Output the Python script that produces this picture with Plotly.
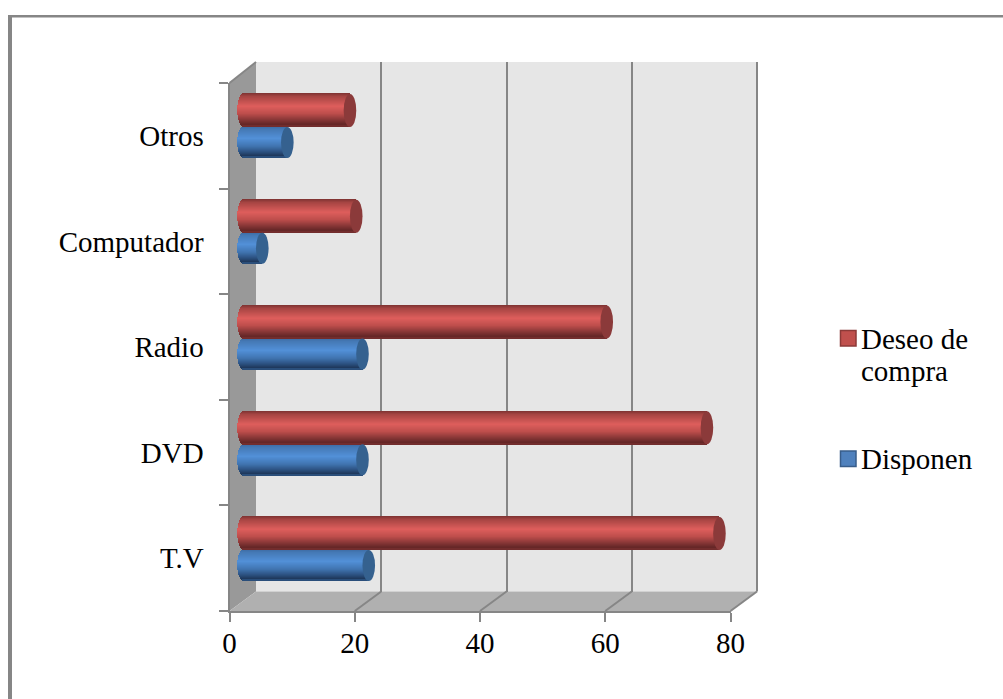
import plotly.graph_objects as go

# Survey data: appliances owned vs. wanted
categories = ["T.V", "DVD", "Radio", "Computador", "Otros"]
disponen = [20, 19, 19, 3, 7]
deseo_compra = [76, 74, 58, 18, 17]
x_ticks = [0, 20, 40, 60, 80]

W, H = 1003, 699
FONT = "Liberation Serif"
LINE = "#868686"

# Pixel frame of the pseudo-3D box
FRONT_L, FRONT_R, FRONT_T, FRONT_B = 229.5, 730.5, 83.0, 611.0
DEPTH_X, DEPTH_Y = 26.5, -19.5
BAR_L = 243.5                # axis origin of the cylinders, mid depth
PX_PER_UNIT = (FRONT_R - FRONT_L) / 80
ROW_PX = 105.75              # distance between category rows
ROW0_PX = 550.0              # seam between the two cylinders of the first row
CAP_RX_PX = 6.3
BAR_PAD = 2                  # axis room left of zero for the rounded cylinder ends


def fx(px):
    return px / W


def fy(py):
    return 1 - py / H


def lerp_stops(stops, t):
    for (t0, c0), (t1, c1) in zip(stops, stops[1:]):
        if t <= t1:
            k = (t - t0) / (t1 - t0) if t1 > t0 else 0
            rgb = [round(a + (b - a) * k) for a, b in zip(c0, c1)]
            return f"rgb({rgb[0]},{rgb[1]},{rgb[2]})"
    c = stops[-1][1]
    return f"rgb({c[0]},{c[1]},{c[2]})"


# Vertical shading of each cylinder, top (0) to bottom (1)
RED_SHADE = [(0.0, (125, 50, 50)), (0.10, (165, 68, 66)), (0.40, (222, 94, 92)),
             (0.62, (190, 78, 76)), (0.85, (125, 50, 50)), (0.95, (100, 38, 38)), (1.0, (120, 48, 48))]
BLUE_SHADE = [(0.0, (60, 105, 160)), (0.10, (68, 120, 180)), (0.40, (82, 144, 216)),
              (0.65, (64, 116, 176)), (0.85, (42, 78, 124)), (0.95, (30, 56, 92)), (1.0, (48, 88, 136))]


def cylinder(values, name, shade, top_px, bottom_px):
    """One horizontal bar trace made of 1px shaded strips with rounded ends."""
    n = int(round(bottom_px - top_px))
    unit_h = 1 / ROW_PX
    rx = CAP_RX_PX / PX_PER_UNIT
    ys, xs, bases, colors = [], [], [], []
    for row, v in enumerate(values):
        for i in range(n):
            t = (i + 0.5) / n
            bulge = rx * (1 - (2 * t - 1) ** 2) ** 0.5
            ys.append(row + (ROW0_PX - (top_px + i + 0.5)) * unit_h)
            bases.append(-bulge)
            xs.append(v + bulge)
            colors.append(lerp_stops(shade, t))
    return go.Bar(
        y=ys, x=xs, base=bases, orientation="h", width=unit_h, name=name,
        marker=dict(color=colors, line=dict(width=0)), cliponaxis=False,
        xaxis="x2", yaxis="y2", showlegend=False, hoverinfo="skip",
    )


def cap_shapes(values, top_px, bottom_px, fill):
    rx = CAP_RX_PX / PX_PER_UNIT
    out = []
    for row, v in enumerate(values):
        out.append(dict(
            type="circle", xref="x2", yref="y2", layer="above",
            x0=v - rx, x1=v + rx,
            y0=row + (ROW0_PX - bottom_px) / ROW_PX,
            y1=row + (ROW0_PX - top_px) / ROW_PX,
            fillcolor=fill, line=dict(width=0),
        ))
    return out


def poly(points, fill):
    path = "M " + " L ".join(f"{fx(x):.5f},{fy(y):.5f}" for x, y in points) + " Z"
    return dict(type="path", xref="paper", yref="paper", layer="below",
                path=path, fillcolor=fill, line=dict(width=0))


def seg(x0, y0, x1, y1, layer="below", width=2):
    return dict(type="line", xref="paper", yref="paper", layer=layer,
                x0=fx(x0), y0=fy(y0), x1=fx(x1), y1=fy(y1),
                line=dict(color=LINE, width=width))


def swatch(top_px, fill, edge):
    return dict(type="rect", xref="paper", yref="paper", layer="above",
                x0=fx(840.5), x1=fx(856), y0=fy(top_px + 15.5), y1=fy(top_px),
                fillcolor=fill, line=dict(color=edge, width=1.5))


BACK_L, BACK_R = FRONT_L + DEPTH_X, FRONT_R + DEPTH_X
BACK_T, BACK_B = FRONT_T + DEPTH_Y - 1.5, FRONT_B + DEPTH_Y

shapes = [
    # page frame along the top and left edges
    dict(type="rect", xref="paper", yref="paper", layer="below",
         x0=fx(8), x1=1, y0=fy(17.5), y1=fy(15), fillcolor=LINE, line=dict(width=0)),
    dict(type="rect", xref="paper", yref="paper", layer="below",
         x0=fx(8), x1=fx(12), y0=0, y1=fy(15), fillcolor=LINE, line=dict(width=0)),
    # box walls
    poly([(BACK_L, BACK_T), (BACK_R, BACK_T), (BACK_R, BACK_B), (BACK_L, BACK_B)], "#e6e6e6"),
    poly([(FRONT_L, FRONT_T), (BACK_L, BACK_T), (BACK_L, BACK_B), (FRONT_L, FRONT_B)], "#999999"),
    poly([(FRONT_L, FRONT_B), (BACK_L, BACK_B), (BACK_R, BACK_B), (FRONT_R, FRONT_B)], "#b0b0b0"),
    seg(FRONT_L, FRONT_T, BACK_L, BACK_T),
    # right edge of the back wall, the gridline for the last tick
    seg(BACK_R, BACK_T, BACK_R, BACK_B),
    # legend keys
    swatch(330.5, "#c0504d", "#8c3a38"),
    swatch(451, "#4f81bd", "#385d8a"),
]
# floor lines leading from each value tick back to its gridline
for tick in x_ticks[1:]:
    px = FRONT_L + tick * PX_PER_UNIT
    shapes.append(seg(px, FRONT_B, px + DEPTH_X, BACK_B))

shapes += cap_shapes(disponen, 550, 581, "#35618f")
shapes += cap_shapes(deseo_compra, 517, 550, "#8b3a3a")

fig = go.Figure()

# Invisible carrier so the back-wall gridlines get drawn
fig.add_trace(go.Scatter(
    x=[0], y=[0], mode="markers", marker=dict(opacity=0),
    xaxis="x", yaxis="y", showlegend=False, hoverinfo="skip",
))

fig.add_trace(cylinder(disponen, "Disponen", BLUE_SHADE, 550, 581))
fig.add_trace(cylinder(deseo_compra, "Deseo de compra", RED_SHADE, 517, 550))

# Invisible carrier for the front category axis
fig.add_trace(go.Scatter(
    x=[0] * len(categories), y=categories, mode="markers", marker=dict(opacity=0),
    xaxis="x3", yaxis="y3", showlegend=False, hoverinfo="skip",
))

font = dict(family=FONT, size=29, color="black")

legend_lines = [("Deseo de", 339), ("compra", 371), ("Disponen", 459)]
annotations = [
    dict(text=text, xref="paper", yref="paper", x=fx(861), y=fy(cy),
         xanchor="left", yanchor="middle", showarrow=False, font=font,
         borderpad=0, borderwidth=0)
    for text, cy in legend_lines
]

fig.update_layout(
    width=W, height=H, autosize=False,
    margin=dict(l=0, r=0, t=0, b=0, pad=0),
    paper_bgcolor="white", plot_bgcolor="rgba(0,0,0,0)",
    barmode="overlay", bargap=0, showlegend=False,
    font=font, shapes=shapes, annotations=annotations,
    # back wall gridlines
    xaxis=dict(domain=[fx(BACK_L), fx(BACK_R)], range=[0, 80], tickmode="array",
               tickvals=x_ticks[1:], showticklabels=False, ticks="", showline=False,
               showgrid=True, gridcolor=LINE, gridwidth=2, zeroline=False,
               anchor="y", fixedrange=True, automargin=False),
    yaxis=dict(domain=[fy(BACK_B), fy(BACK_T)], range=[0, 1], showticklabels=False, ticks="",
               showgrid=False, showline=False, zeroline=False, anchor="x", fixedrange=True,
               automargin=False),
    # cylinders at mid depth
    xaxis2=dict(domain=[fx(BAR_L - BAR_PAD * PX_PER_UNIT), fx(BAR_L + 80 * PX_PER_UNIT)],
                range=[-BAR_PAD, 80], visible=False,
                anchor="y2", fixedrange=True, automargin=False),
    yaxis2=dict(domain=[fy(ROW0_PX + 0.5 * ROW_PX), fy(ROW0_PX - 4.5 * ROW_PX)],
                range=[-0.5, 4.5], visible=False, anchor="x2", fixedrange=True, automargin=False),
    # front axes that carry ticks and labels
    xaxis3=dict(domain=[fx(FRONT_L), fx(FRONT_R)], range=[0, 80], tickmode="array",
                tickvals=x_ticks, ticktext=[str(t) for t in x_ticks],
                ticks="outside", ticklen=9, tickwidth=2, tickcolor=LINE,
                showline=True, linecolor=LINE, linewidth=2, showgrid=False, zeroline=False,
                tickfont=font, ticklabelstandoff=-4, anchor="y3", fixedrange=True, automargin=False),
    yaxis3=dict(domain=[fy(FRONT_B), fy(FRONT_T)], type="category",
                categoryorder="array", categoryarray=categories, range=[-0.5, 4.5],
                tickson="boundaries", ticks="outside", ticklen=9, tickwidth=2, tickcolor=LINE,
                showline=True, linecolor=LINE, linewidth=2, showgrid=False, zeroline=False,
                tickfont=font, ticklabelstandoff=18, anchor="x3", fixedrange=True, automargin=False),
)

fig.write_html("out.html", config=dict(displayModeBar=False))
